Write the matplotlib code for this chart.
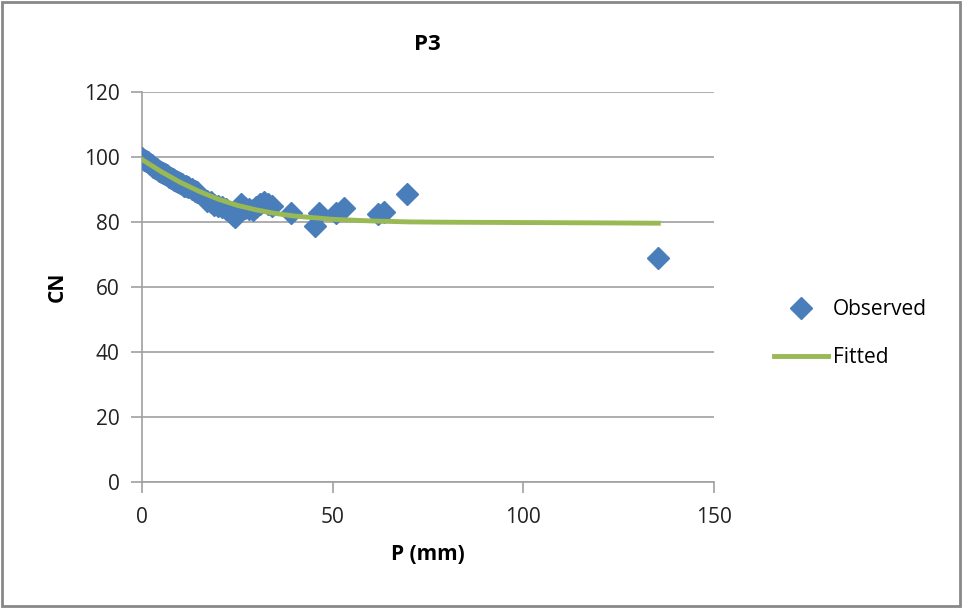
import matplotlib.pyplot as plt
from matplotlib.patches import Rectangle

# observed points
obs_p = [0, 0.5, 1, 1.5, 2, 2.5, 3, 3.5, 4, 4.5, 5, 5.5, 6, 6.5, 7, 7.5, 8, 8.5,
         9, 9.5, 10, 10.5, 11, 11.5, 12, 13, 14, 14.5,
         17, 18, 19, 20, 21, 22, 23, 24, 24.5, 25.5, 26, 27, 28, 29, 30, 31, 32,
         33, 34, 39, 45.5, 46.5, 51, 53, 62, 63.5, 69.5, 135.5]
obs_cn = [99.7, 99.2, 98.8, 98.3, 97.9, 97.5, 97.0, 96.6, 96.2, 95.8, 95.4, 95.0,
          94.6, 94.3, 93.9, 93.6, 93.2, 92.9, 92.5, 92.2, 91.9, 91.6, 91.2, 90.9,
          90.6, 90.1, 89.6, 89.2,
          86.5, 86.0, 85.3, 84.9, 84.6, 83.9, 83.2, 82.0, 81.5, 84.5, 85.5, 84.4,
          84.0, 83.8, 84.6, 85.4, 86.0, 85.6, 85.0, 82.6, 78.6, 82.6, 82.8, 84.2,
          82.3, 83.0, 88.5, 69.0]

# fitted curve
fit_p = [0, 5, 10, 15, 20, 25, 30, 35, 40, 50, 60, 70, 80, 100, 120, 135.5]
fit_cn = [99.2, 95.5, 92.2, 89.4, 87.0, 85.1, 83.7, 82.6, 81.8, 80.8, 80.3,
          80.0, 79.9, 79.8, 79.7, 79.6]

plt.rcParams['font.family'] = ['Open Sans', 'DejaVu Sans']

fig = plt.figure(figsize=(9.63, 6.08), dpi=100)
fig.patches.append(Rectangle((0.002, 0.004), 0.995, 0.993, transform=fig.transFigure,
                             fill=False, edgecolor='#888888', linewidth=2))
ax = fig.add_axes([0.1475, 0.2077, 0.5935, 0.6410])

ax.plot(obs_p, obs_cn, 'D', color='#4a7ebb', markersize=11, label='Observed',
        linestyle='none', zorder=3)
ax.plot(fit_p, fit_cn, '-', color='#98b954', linewidth=3.5, label='Fitted', zorder=4)

ax.set_xlim(0, 150)
ax.set_ylim(0, 120)
ax.set_xticks([0, 50, 100, 150])
ax.set_yticks(range(0, 121, 20))
ax.yaxis.grid(True, color='#a0a0a0', linewidth=1.2)
ax.set_axisbelow(True)
for s in ['top', 'right']:
    ax.spines[s].set_visible(False)
for s in ['left', 'bottom']:
    ax.spines[s].set_color('#a0a0a0')
    ax.spines[s].set_linewidth(1.2)
ax.tick_params(axis='both', colors='#a0a0a0', labelcolor='#222222', labelsize=15,
               length=8, width=1.2)
ax.tick_params(axis='y', pad=8)
ax.tick_params(axis='x', pad=10)

ax.set_title('P3', fontsize=16, fontweight='bold', pad=30)
ax.set_xlabel('P (mm)', fontsize=15, fontweight='bold', labelpad=12)
ax.set_ylabel('CN', fontsize=15, fontweight='bold', labelpad=12)

ax.legend(loc='center left', bbox_to_anchor=(1.088, 0.38), frameon=False, fontsize=15,
          handlelength=2.6, handletextpad=0.2, labelspacing=1.3, borderpad=0)

fig.savefig('out.png', dpi=100)
